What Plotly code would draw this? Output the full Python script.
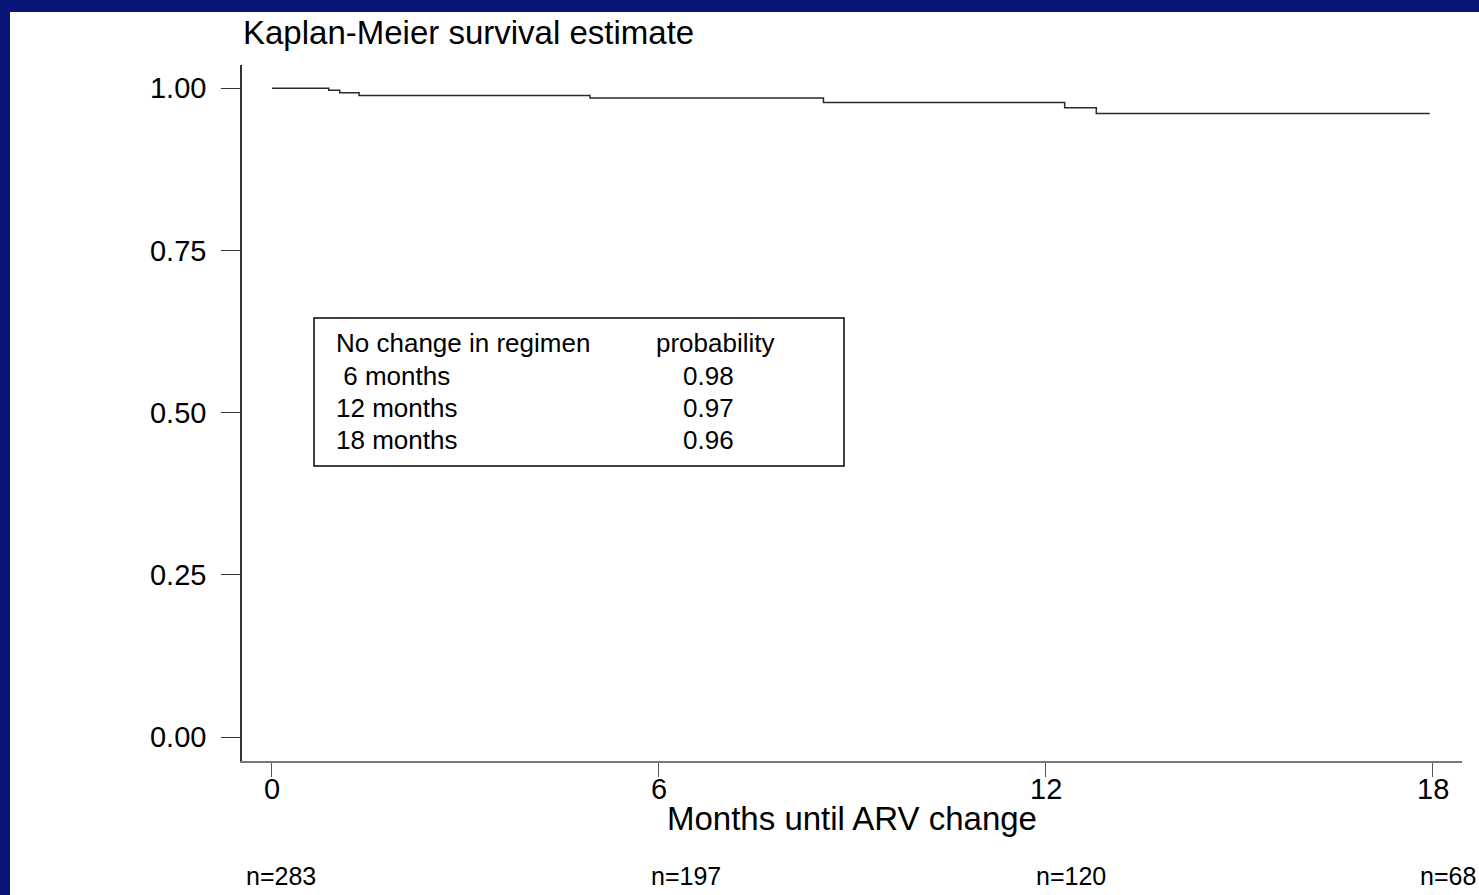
import plotly.graph_objects as go

# ---- data ----
months = [0, 0.88, 1.05, 1.35, 4.93, 8.55, 12.29, 12.78, 17.95]
survival = [1.0, 0.997, 0.993, 0.989, 0.985, 0.978, 0.970, 0.961, 0.961]

x_ticks = [0, 6, 12, 18]
y_ticks = [0.0, 0.25, 0.5, 0.75, 1.0]
n_at_risk = [283, 197, 120, 68]

table_header = ["No change in regimen", "probability"]
table_rows = ["\u00a06 months", "12 months", "18 months"]
table_probs = [0.98, 0.97, 0.96]

# ---- layout helpers (pixel -> paper) ----
W, H = 1479, 895
L, R, T, B = 242, 1462, 65, 761
def px(xp):
    return (xp - L) / (R - L)
def py(yp):
    return (B - yp) / (B - T)

FONT = "Liberation Sans, Arial, sans-serif"
NAVY = "#0A1478"

fig = go.Figure()
fig.add_trace(go.Scatter(
    x=months, y=survival, mode="lines", line_shape="hv",
    line=dict(color="#2a2a2a", width=1.5), showlegend=False, hoverinfo="skip"))

fig.update_layout(
    width=W, height=H,
    margin=dict(l=L, r=W - R, t=T, b=H - B, pad=0),
    paper_bgcolor="white", plot_bgcolor="white",
    font=dict(family=FONT, color="black"),
    showlegend=False,
)

fig.update_xaxes(
    range=[-0.465, 18.45], tickvals=x_ticks, showticklabels=False,
    showgrid=False, zeroline=False, showline=True, linecolor="#777777", linewidth=1.5,
    ticks="outside", ticklen=14, tickwidth=1, tickcolor="#555555",
)
fig.update_yaxes(
    range=[-0.037, 1.0359], tickvals=y_ticks, tickformat=".2f",
    showgrid=False, zeroline=False, showline=True, linecolor="#333333", linewidth=1.5,
    ticks="outside", ticklen=19, tickwidth=1, tickcolor="#333333",
    tickfont=dict(size=29, family=FONT, color="black"),
    ticklabelstandoff=9,
)

shapes = [
    dict(type="rect", xref="paper", yref="paper", x0=px(0), x1=px(10), y0=py(H), y1=py(0),
         fillcolor=NAVY, line=dict(width=0)),
    dict(type="rect", xref="paper", yref="paper", x0=px(0), x1=px(W), y0=py(12), y1=py(0),
         fillcolor=NAVY, line=dict(width=0)),
    dict(type="rect", xref="paper", yref="paper", x0=px(314), x1=px(844), y0=py(466), y1=py(318),
         fillcolor="rgba(0,0,0,0)", line=dict(color="black", width=1.5)),
]
fig.update_layout(shapes=shapes)

ann = []
ann.append(dict(text="Kaplan-Meier survival estimate", xref="paper", yref="paper",
                x=px(241), y=py(32), xanchor="left", yanchor="middle", showarrow=False,
                font=dict(size=33, family=FONT, color="black")))

# x tick labels
for xv in x_ticks:
    ann.append(dict(text=str(xv), xref="x", yref="paper", x=xv, y=py(789),
                    xanchor="center", yanchor="middle", showarrow=False,
                    font=dict(size=29, family=FONT, color="black")))

# x axis title
ann.append(dict(text="Months until ARV change", xref="paper", yref="paper",
                x=0.5, y=py(818), xanchor="center", yanchor="middle", showarrow=False,
                font=dict(size=33, family=FONT, color="black")))

# at-risk numbers
n_shift = [-28, -10, -12, -15]
for xv, n, s in zip(x_ticks, n_at_risk, n_shift):
    ann.append(dict(text=f"n={n}", xref="x", yref="paper", x=xv, y=py(876),
                    xanchor="left", yanchor="middle", xshift=s, showarrow=False,
                    font=dict(size=25, family=FONT, color="black")))

# table inside box
row_y = [343, 376, 408, 440]
ann.append(dict(text=table_header[0], xref="paper", yref="paper", x=px(334), y=py(row_y[0]),
                xanchor="left", yanchor="middle", showarrow=False,
                font=dict(size=26, family=FONT, color="black")))
ann.append(dict(text=table_header[1], xref="paper", yref="paper", x=px(654), y=py(row_y[0]),
                xanchor="left", yanchor="middle", showarrow=False,
                font=dict(size=26, family=FONT, color="black")))
for i, (lab, p) in enumerate(zip(table_rows, table_probs)):
    ann.append(dict(text=lab, xref="paper", yref="paper", x=px(334), y=py(row_y[i + 1]),
                    xanchor="left", yanchor="middle", showarrow=False,
                    font=dict(size=26, family=FONT, color="black")))
    ann.append(dict(text=f"{p:.2f}", xref="paper", yref="paper", x=px(681), y=py(row_y[i + 1]),
                    xanchor="left", yanchor="middle", showarrow=False,
                    font=dict(size=26, family=FONT, color="black")))
fig.update_layout(annotations=ann)

fig.write_html(
    "out.html",
    config={"displayModeBar": False},
    post_script="document.body.style.margin='0';document.body.style.overflow='hidden';",
)
